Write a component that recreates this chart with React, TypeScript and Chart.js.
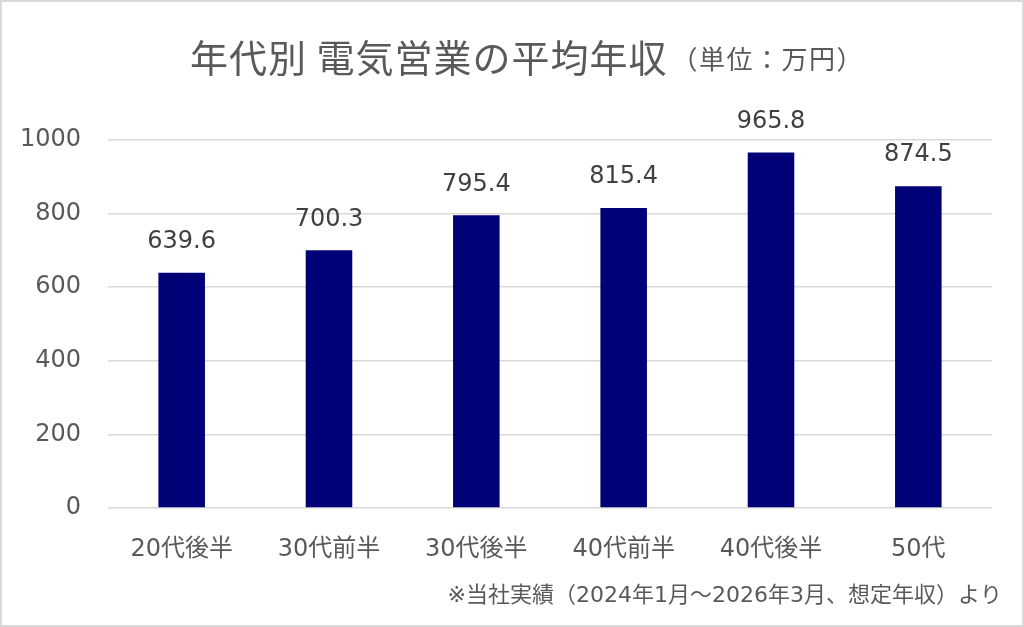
import React, { useEffect, useRef } from "react";
import { Chart, registerables } from "chart.js";

Chart.register(...registerables);

const categories = ["20代後半", "30代前半", "30代後半", "40代前半", "40代後半", "50代"];
const values = [639.6, 700.3, 795.4, 815.4, 965.8, 874.5];
const yTicks = [0, 200, 400, 600, 800, 1000];
const titleMain = "年代別 電気営業の平均年収";
const titleSub = "（単位：万円）";
const footnote = "※当社実績（2024年1月～2026年3月、想定年収）より";

const FONT = '"DejaVu Sans", "Noto Sans CJK JP", sans-serif';
const CJK = '"Noto Sans CJK JP", "DejaVu Sans", sans-serif';

const decorPlugin = {
  id: "decor",
  beforeDraw(chart: any) {
    const ctx = chart.ctx;
    ctx.save();
    ctx.fillStyle = "#ffffff";
    ctx.fillRect(0, 0, chart.width, chart.height);
    ctx.restore();
  },
  afterDraw(chart: any) {
    const ctx = chart.ctx;
    ctx.save();
    // border
    ctx.strokeStyle = "#d9d9d9";
    ctx.lineWidth = 2;
    ctx.strokeRect(1, 1, chart.width - 2, chart.height - 2);
    // title
    ctx.fillStyle = "#595959";
    ctx.textBaseline = "middle";
    ctx.textAlign = "left";
    ctx.font = `38px ${CJK}`;
    (ctx as any).letterSpacing = "1px";
    const w1 = ctx.measureText(titleMain).width;
    ctx.font = `26px ${CJK}`;
    (ctx as any).letterSpacing = "1.5px";
    const w2 = ctx.measureText(titleSub).width;
    const total = w1 + w2 + 4;
    const startX = 527 - total / 2;
    ctx.font = `38px ${CJK}`;
    (ctx as any).letterSpacing = "1px";
    ctx.fillText(titleMain, startX, 58);
    ctx.font = `26px ${CJK}`;
    (ctx as any).letterSpacing = "1.5px";
    ctx.fillText(titleSub, startX + w1 + 4, 59);
    (ctx as any).letterSpacing = "0px";
    // footnote
    ctx.font = `22px ${FONT}`;
    ctx.textAlign = "right";
    ctx.fillText(footnote, 1002, 596);
    // data labels
    const meta = chart.getDatasetMeta(0);
    ctx.font = `24px ${FONT}`;
    ctx.fillStyle = "#404040";
    ctx.textAlign = "center";
    ctx.textBaseline = "middle";
    meta.data.forEach((bar: any, i: number) => {
      ctx.fillText(values[i].toFixed(1), bar.x, bar.y - 31);
    });
    ctx.restore();
  },
};

export default function App() {
  const ref = useRef<HTMLCanvasElement | null>(null);
  useEffect(() => {
    document.body.style.margin = "0";
    if (!ref.current) return;
    const chart = new Chart(ref.current, {
      type: "bar",
      data: {
        labels: categories,
        datasets: [
          {
            data: values,
            backgroundColor: "#000077",
            borderWidth: 0,
            barPercentage: 0.316,
            categoryPercentage: 1,
          },
        ],
      },
      options: {
        animation: false,
        responsive: false,
        devicePixelRatio: 1,
        layout: { padding: { top: 140, right: 32, left: 0, bottom: 0 } },
        plugins: {
          legend: { display: false },
          tooltip: { enabled: false },
          title: { display: false },
        },
        scales: {
          x: {
            grid: { display: false, drawTicks: false },
            border: { display: false },
            ticks: {
              color: "#595959",
              font: { family: FONT, size: 24 },
              padding: 27,
              maxRotation: 0,
            },
            afterFit(scale: any) {
              scale.height = 119;
            },
          },
          y: {
            min: 0,
            max: 1000,
            afterBuildTicks(scale: any) {
              scale.ticks = yTicks.map((v) => ({ value: v }));
            },
            grid: { color: "#d9d9d9", lineWidth: 1.5, drawTicks: false },
            border: { display: false },
            ticks: {
              color: "#595959",
              font: { family: FONT, size: 24 },
              padding: 27,
              callback: (v: any) => String(v),
            },
            afterFit(scale: any) {
              scale.width = 108;
            },
          },
        },
      },
      plugins: [decorPlugin],
    });
    return () => chart.destroy();
  }, []);
  return <canvas ref={ref} width={1024} height={627} style={{ display: "block" }} />;
}
